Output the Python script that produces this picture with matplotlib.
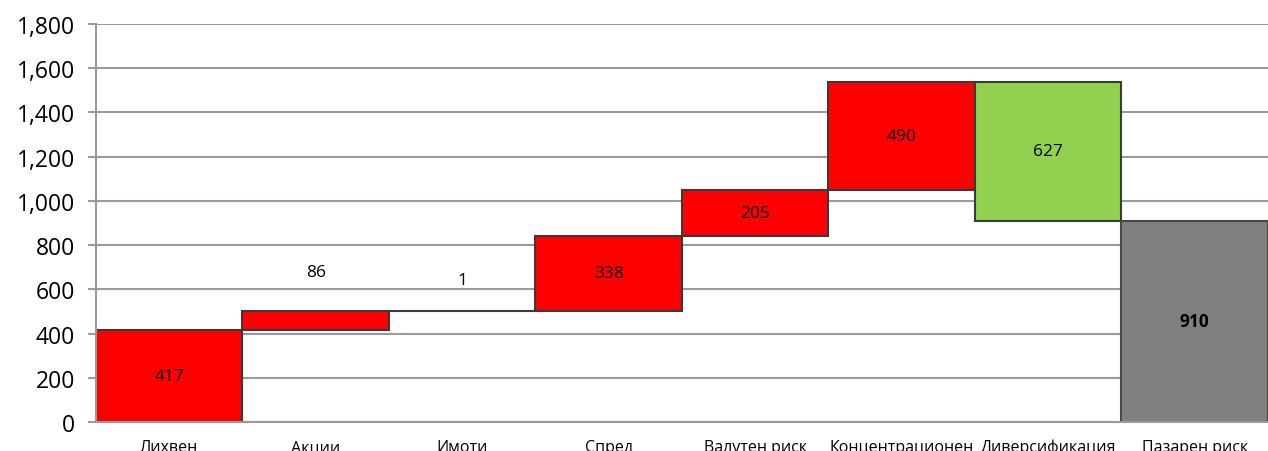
import numpy as np
import matplotlib.pyplot as plt
from matplotlib.ticker import FuncFormatter

plt.rcParams['font.family'] = ['Open Sans', 'DejaVu Sans']

categories = ['Лихвен', 'Акции', 'Имоти', 'Спред', 'Валутен риск',
              'Концентрационен', 'Диверсификация', 'Пазарен риск']
changes = [417, 86, 1, 338, 205, 490, -627]
total = 910
colors = ['#FF0000', '#FF0000', '#FF0000', '#FF0000', '#FF0000', '#FF0000',
          '#92D050', '#808080']


def build_waterfall():
    ends = np.cumsum(changes)
    starts = ends - np.array(changes)
    bottoms = list(np.minimum(starts, ends)) + [0]
    heights = list(np.abs(changes)) + [total]
    labels = [str(abs(v)) for v in changes] + [str(total)]
    return bottoms, heights, labels


def plot():
    bottoms, heights, labels = build_waterfall()
    x = np.arange(len(categories))

    fig = plt.figure(figsize=(12.68, 4.52), dpi=100)
    ax = fig.add_axes([0.0757, 0.064, 0.9243, 0.881])

    ax.set_axisbelow(True)
    ax.yaxis.grid(True, color='#9a9a9a', linewidth=1.5)
    ax.bar(x, heights, bottom=bottoms, width=1.0, color=colors,
           edgecolor=['#3a3a3a'] * 7 + ['#4a4a3a'], linewidth=1.5)

    # value labels: centred in the bar, small ones sit above it
    small_offset = {1: 28, 2: 22}
    for i, (b, h, t) in enumerate(zip(bottoms, heights, labels)):
        weight = 'bold' if i == len(labels) - 1 else 'normal'
        if i in small_offset:
            ax.annotate(t, (x[i], b + h), xytext=(0, small_offset[i]),
                        textcoords='offset points', ha='center', va='center',
                        fontsize=12.5, fontweight=weight)
        else:
            ax.text(x[i], b + h / 2, t, ha='center', va='center',
                    fontsize=12.5, fontweight=weight)

    ax.set_xlim(-0.5, len(categories) - 0.5)
    ax.set_ylim(0, 1800)
    ax.set_yticks(np.arange(0, 1801, 200))
    ax.yaxis.set_major_formatter(FuncFormatter(lambda v, p: f'{int(v):,}'))
    ax.set_xticks(x)
    ax.set_xticklabels(categories)

    for side in ['top', 'right']:
        ax.spines[side].set_visible(False)
    for side in ['left', 'bottom']:
        ax.spines[side].set_color('#9a9a9a')
        ax.spines[side].set_linewidth(1.5)

    ax.tick_params(axis='y', length=6, width=1.5, color='#9a9a9a',
                   labelsize=16.5, pad=9)
    ax.tick_params(axis='x', length=0, labelsize=11.5, pad=12)

    fig.savefig('out.png', dpi=100)


if __name__ == '__main__':
    plot()
